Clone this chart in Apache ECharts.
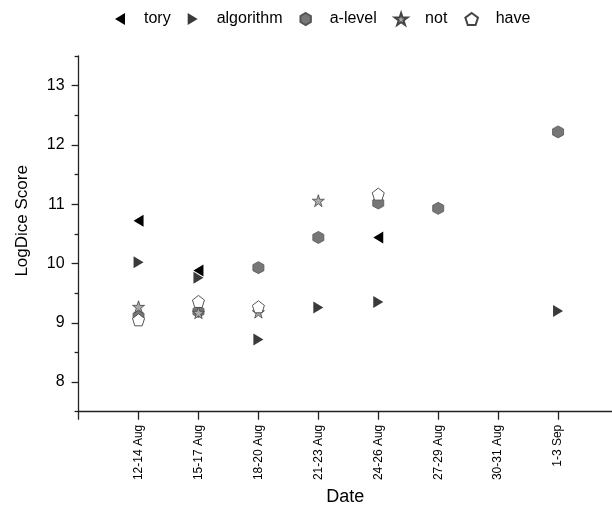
<!DOCTYPE html>
<html>
<head>
<meta charset="utf-8">
<script src="https://cdn.jsdelivr.net/npm/echarts@6/dist/echarts.min.js"></script>
<style>
  html, body { margin: 0; padding: 0; background: #fff; }
  #chart { width: 612px; height: 511px; }
</style>
</head>
<body>
<div id="chart"></div>
<script>
// Date windows along the x axis
const categories = ['12-14 Aug', '15-17 Aug', '18-20 Aug', '21-23 Aug', '24-26 Aug', '27-29 Aug', '30-31 Aug', '1-3 Sep'];

// LogDice scores per collocate (null = not present in that window)
const tory      = [10.72, 9.88, null, null, 10.44, null, null, null];
const algorithm = [10.02, 9.76, 8.72, 9.26, 9.35, null, null, 9.20];
const aLevel    = [9.11, 9.19, 9.93, 10.44, 11.02, 10.93, null, 12.22];
const notWord   = [9.27, 9.17, 9.18, 11.06, null, null, null, null];
const have      = [9.05, 9.36, 9.27, null, 11.17, null, null, null];

const yTicks = [8, 9, 10, 11, 12, 13];
const yMinorTicks = [7.5, 8.5, 9.5, 10.5, 11.5, 12.5, 13.5];

const FONT = "'Liberation Sans', Arial, sans-serif";

const TRI_LEFT = 'path://M-0.833,0 L0.833,-1 L0.833,1 Z';
const TRI_RIGHT = 'path://M0.833,0 L-0.833,-1 L-0.833,1 Z';
const HEXAGON = 'path://M0,-1 L0.866,-0.5 L0.866,0.5 L0,1 L-0.866,0.5 L-0.866,-0.5 Z';
const STAR = 'path://M0,-1 L0.2245,-0.309 L0.9511,-0.309 L0.3633,0.118 L0.5878,0.809 L0,0.382 L-0.5878,0.809 L-0.3633,0.118 L-0.9511,-0.309 L-0.2245,-0.309 Z';
const PENTAGON = 'path://M0,-1 L0.9511,-0.309 L0.5878,0.809 L-0.5878,0.809 L-0.9511,-0.309 Z';

function toPoints(values) {
  const pts = [];
  values.forEach((v, i) => { if (v !== null) pts.push([i + 1, v]); });
  return pts;
}

const chart = echarts.init(document.getElementById('chart'), null, { renderer: 'canvas' });

const axisLine = { show: true, lineStyle: { color: '#222', width: 1.3 } };

chart.setOption({
  animation: false,
  backgroundColor: '#fff',
  textStyle: { fontFamily: FONT },
  legend: {
    top: 6,
    left: 110,
    itemWidth: 38,
    itemHeight: 12,
    itemGap: 17,
    symbolKeepAspect: true,
    textStyle: { fontFamily: FONT, fontSize: 16, color: '#000' },
    data: [
      { name: 'tory', icon: TRI_LEFT },
      { name: 'algorithm', icon: TRI_RIGHT },
      { name: 'a-level', icon: HEXAGON },
      { name: 'not', icon: STAR },
      { name: 'have', icon: PENTAGON }
    ]
  },
  grid: { left: 78.6, right: 0, top: 56, bottom: 99, containLabel: false },
  xAxis: {
    type: 'value',
    min: 0,
    max: 8.9,
    name: 'Date',
    nameLocation: 'middle',
    nameGap: 76,
    nameTextStyle: { fontFamily: FONT, fontSize: 18, color: '#000' },
    axisLine: axisLine,
    axisTick: { show: true, inside: false, length: 8, lineStyle: { color: '#222', width: 1.3 },
                customValues: [0, 1, 2, 3, 4, 5, 6, 7, 8] },
    axisLabel: {
      customValues: [1, 2, 3, 4, 5, 6, 7, 8],
      rotate: 90,
      margin: 13,
      fontFamily: FONT,
      fontSize: 12,
      color: '#000',
      formatter: v => categories[Math.round(v) - 1] || ''
    },
    splitLine: { show: false }
  },
  yAxis: [{
    type: 'value',
    min: 7.5,
    max: 13.5,
    name: 'LogDice Score',
    nameLocation: 'middle',
    nameGap: 48,
    nameTextStyle: { fontFamily: FONT, fontSize: 17, color: '#000', padding: [0, 0, 0, 26] },
    axisLine: axisLine,
    axisTick: { show: true, length: 7, lineStyle: { color: '#222', width: 1.3 }, customValues: yTicks },
    axisLabel: { customValues: yTicks, margin: 14, fontFamily: FONT, fontSize: 16, color: '#000' },
    splitLine: { show: false }
  }, {
    // half-unit minor ticks on the same scale
    type: 'value',
    position: 'left',
    min: 7.5,
    max: 13.5,
    axisLine: { show: false },
    axisTick: { show: true, length: 4, lineStyle: { color: '#222', width: 1.3 }, customValues: yMinorTicks },
    axisLabel: { show: false },
    splitLine: { show: false }
  }],
  series: [
    {
      name: 'tory', type: 'scatter', data: toPoints(tory),
      symbol: TRI_LEFT, symbolSize: [10, 12],
      itemStyle: { color: '#000', opacity: 1 }
    },
    {
      name: 'algorithm', type: 'scatter', data: toPoints(algorithm),
      symbol: TRI_RIGHT, symbolSize: [10, 12],
      itemStyle: { color: '#3a3a3a', opacity: 1 }
    },
    {
      name: 'a-level', type: 'scatter', data: toPoints(aLevel),
      symbol: HEXAGON, symbolSize: [11, 12],
      itemStyle: { color: '#777', borderColor: '#555', borderWidth: 0.8, opacity: 1 }
    },
    {
      name: 'not', type: 'scatter', data: toPoints(notWord),
      symbol: STAR, symbolSize: [12, 12],
      itemStyle: { color: '#aaa', borderColor: '#444', borderWidth: 0.8, opacity: 1 }
    },
    {
      name: 'have', type: 'scatter', data: toPoints(have),
      symbol: PENTAGON, symbolSize: [12, 12],
      itemStyle: { color: '#fff', borderColor: '#444', borderWidth: 0.9, opacity: 1 }
    }
  ]
});
</script>
</body>
</html>
